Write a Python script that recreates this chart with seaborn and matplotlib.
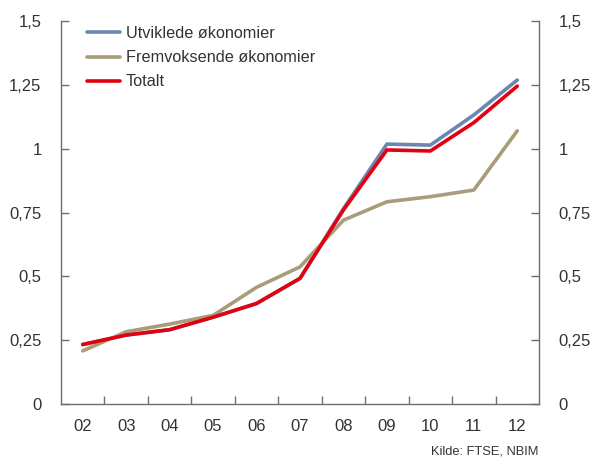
import matplotlib
matplotlib.use("Agg")
import matplotlib.pyplot as plt
import seaborn as sns
import pandas as pd
from matplotlib.ticker import FixedLocator, FuncFormatter

years = ["02", "03", "04", "05", "06", "07", "08", "09", "10", "11", "12"]
utviklede = [0.233, 0.270, 0.291, 0.340, 0.393, 0.492, 0.765, 1.018, 1.014, 1.132, 1.269]
fremvoksende = [0.208, 0.283, 0.313, 0.347, 0.457, 0.537, 0.720, 0.792, 0.812, 0.838, 1.070]
totalt = [0.233, 0.270, 0.291, 0.340, 0.394, 0.492, 0.760, 0.995, 0.991, 1.102, 1.245]
series_names = ["Utviklede økonomier", "Fremvoksende økonomier", "Totalt"]
y_ticks = [0, 0.25, 0.5, 0.75, 1, 1.25, 1.5]

df = pd.concat([
    pd.DataFrame({"År": years, "Verdi": v, "Serie": n})
    for n, v in zip(series_names, [utviklede, fremvoksende, totalt])
])

sns.set_style("white")
plt.rcParams["font.family"] = ["Liberation Sans", "DejaVu Sans"]

fig = plt.figure(figsize=(5.94, 4.58), dpi=100)
ax = fig.add_axes([0.1027, 0.1179, 0.8047, 0.8362])

palette = {"Utviklede økonomier": "#6B87B0",
           "Fremvoksende økonomier": "#A89D78",
           "Totalt": "#E3000F"}
sns.lineplot(data=df, x="År", y="Verdi", hue="Serie", palette=palette,
             linewidth=2.6, ax=ax, sort=False)

ax.set_xlim(-0.5, len(years) - 0.5)
ax.set_ylim(0, 1.5)
ax.set_xlabel("")
ax.set_ylabel("")

fmt = FuncFormatter(lambda v, p: ("%g" % v).replace(".", ","))
ax.yaxis.set_major_locator(FixedLocator(y_ticks))
ax.yaxis.set_major_formatter(fmt)

ax.set_xticks(range(len(years)))
ax.set_xticklabels(years)
ax.set_xticks([i + 0.5 for i in range(len(years) - 1)], minor=True)

spine_c = "#6E6E6E"
for s in ["left", "right", "bottom"]:
    ax.spines[s].set_visible(True)
    ax.spines[s].set_color(spine_c)
    ax.spines[s].set_linewidth(1.0)
ax.spines["top"].set_visible(False)

ax.tick_params(axis="y", which="major", direction="in", length=6, width=1,
               color=spine_c, left=True, right=True, labelleft=True,
               labelright=True, labelsize=12, labelcolor="#333333", pad=14)
ax.tick_params(axis="x", which="major", length=0, labelsize=12,
               labelcolor="#333333", pad=11)
ax.tick_params(axis="x", which="minor", direction="in", length=6, width=1,
               color=spine_c, bottom=True)

leg = ax.legend(loc="upper left", frameon=False, fontsize=11.7,
                handlelength=2.0, handletextpad=0.35, labelspacing=0.56,
                bbox_to_anchor=(0.035, 1.012), borderaxespad=0.2)
for t in leg.get_texts():
    t.set_color("#333333")

fig.text(0.907, 0.0, "Kilde: FTSE, NBIM", ha="right", va="bottom",
         fontsize=9.3, color="#333333")

fig.savefig("out.png", dpi=100)
